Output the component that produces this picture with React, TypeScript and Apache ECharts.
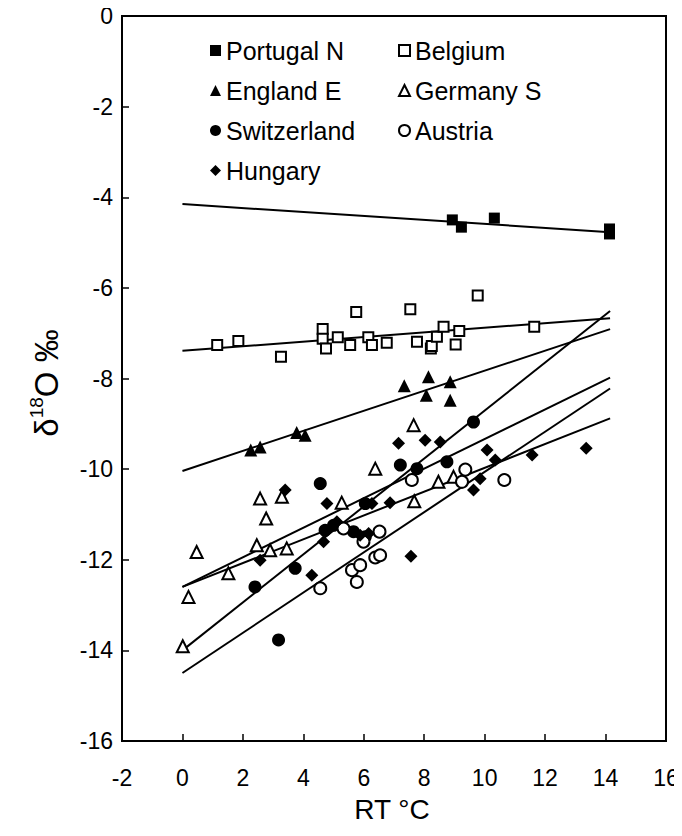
import React, { useEffect, useRef } from "react";
import * as echarts from "echarts";

const FONT = '"Liberation Sans", Arial, Helvetica, sans-serif';

// Tick range
const xRange = [-2, 16];
const yRange = [-16, 0];

// Measured points [RT °C, δ18O ‰]
const portugalN = [[8.93, -4.5], [9.23, -4.66], [10.32, -4.46], [14.13, -4.7], [14.13, -4.81]];
const belgium = [
  [1.15, -7.26], [1.85, -7.17], [3.26, -7.52], [4.64, -6.91], [4.64, -7.12], [4.75, -7.34],
  [5.14, -7.09], [5.55, -7.26], [5.75, -6.53], [6.15, -7.09], [6.27, -7.26], [6.76, -7.21],
  [7.54, -6.47], [7.76, -7.19], [8.22, -7.34], [8.25, -7.28], [8.42, -7.08], [8.64, -6.86],
  [9.04, -7.25], [9.16, -6.95], [9.77, -6.17], [11.64, -6.86],
];
const englandE = [
  [2.26, -9.58], [2.57, -9.51], [3.78, -9.19], [4.06, -9.25], [7.34, -8.16],
  [8.14, -7.96], [8.07, -8.37], [8.86, -8.07], [8.86, -8.48],
];
const germanyS = [
  [0.01, -13.91], [0.2, -12.82], [0.47, -11.83], [1.52, -12.3], [2.46, -11.68], [2.57, -10.65],
  [2.77, -11.09], [2.9, -11.79], [3.29, -10.61], [3.45, -11.75], [5.27, -10.74], [6.38, -9.99],
  [7.65, -9.03], [7.67, -10.71], [8.47, -10.28], [8.97, -10.17],
];
const switzerland = [
  [2.4, -12.6], [3.18, -13.77], [3.73, -12.19], [4.56, -10.32], [4.72, -11.35], [5.0, -11.24],
  [5.66, -11.38], [6.05, -11.49], [6.05, -10.76], [7.21, -9.91], [7.76, -9.99], [8.75, -9.84],
  [9.63, -8.96],
];
const austria = [
  [4.56, -12.63], [5.33, -11.31], [5.61, -12.23], [5.77, -12.49], [5.88, -12.12], [5.99, -11.6],
  [6.38, -11.95], [6.54, -11.9], [6.52, -11.38], [7.59, -10.24], [9.25, -10.28], [9.36, -10.01],
  [10.65, -10.24],
];
const hungary = [
  [2.57, -12.01], [3.4, -10.46], [4.28, -12.34], [4.67, -11.6], [4.78, -10.76], [5.11, -11.16],
  [5.88, -11.46], [6.16, -11.42], [6.27, -10.76], [6.87, -10.74], [7.15, -9.43], [7.56, -11.92],
  [8.03, -9.36], [8.53, -9.4], [9.63, -10.46], [9.85, -10.21], [10.08, -9.58], [10.35, -9.8],
  [11.57, -9.69], [13.36, -9.54],
];

// Regression line end points
const fitPortugalN = [[0, -4.15], [14.15, -4.77]];
const fitBelgium = [[0, -7.39], [14.15, -6.67]];
const fitEnglandE = [[0, -10.04], [14.15, -6.91]];
const fitGermanyS = [[0, -12.6], [14.15, -7.98]];
const fitSwitzerland = [[0, -14.0], [14.15, -6.51]];
const fitAustria = [[0, -14.5], [14.15, -8.22]];
const fitHungary = [[0, -12.6], [14.15, -8.88]];

const groups = [
  { name: "Portugal N", data: portugalN, fit: fitPortugalN, symbol: "rect", size: 11, open: false },
  { name: "Belgium", data: belgium, fit: fitBelgium, symbol: "rect", size: 10, open: true },
  { name: "England E", data: englandE, fit: fitEnglandE, symbol: "triangle", size: 13, open: false },
  { name: "Germany S", data: germanyS, fit: fitGermanyS, symbol: "triangle", size: 12, open: true },
  { name: "Switzerland", data: switzerland, fit: fitSwitzerland, symbol: "circle", size: 13, open: false },
  { name: "Austria", data: austria, fit: fitAustria, symbol: "circle", size: 12, open: true },
  { name: "Hungary", data: hungary, fit: fitHungary, symbol: "diamond", size: 13, open: false },
];

const legendLeftCol = ["Portugal N", "England E", "Switzerland", "Hungary"];
const legendRightCol = ["Belgium", "Germany S", "Austria"];

export default function App() {
  const ref = useRef<HTMLDivElement>(null);
  useEffect(() => {
    if (!ref.current) return;
    const chart = echarts.init(ref.current, null, { renderer: "svg" });
    const scatter = groups.map((g) => ({
      name: g.name,
      type: "scatter",
      data: g.data,
      symbol: g.symbol,
      symbolSize: g.size,
      z: 3,
      itemStyle: g.open
        ? { color: "#ffffff", borderColor: "#000000", borderWidth: 2, opacity: 1 }
        : { color: "#000000", opacity: 1 },
      emphasis: { disabled: true },
    }));
    const lines = groups.map((g) => ({
      name: "fit " + g.name,
      type: "line",
      data: g.fit,
      showSymbol: false,
      symbol: "none",
      z: 2,
      silent: true,
      lineStyle: { color: "#000000", width: 2 },
    }));
    const legendBase = {
      orient: "vertical",
      top: 33,
      itemGap: 15,
      itemWidth: 11,
      itemHeight: 11,
      selectedMode: false,
      textStyle: { fontSize: 25, fontFamily: FONT, color: "#000" },
    };
    chart.setOption({
      animation: false,
      backgroundColor: "#ffffff",
      grid: {
        left: 122,
        right: 16,
        top: 16,
        bottom: 95,
        show: true,
        borderColor: "#000",
        borderWidth: 2,
        backgroundColor: "transparent",
      },
      legend: [
        { ...legendBase, left: 205, data: legendLeftCol },
        { ...legendBase, left: 393, data: legendRightCol },
      ],
      xAxis: {
        type: "value",
        min: xRange[0],
        max: xRange[1],
        interval: 2,
        axisLine: { show: true, onZero: false, lineStyle: { color: "#000", width: 2 } },
        axisTick: { show: true, inside: true, length: 7, lineStyle: { color: "#000", width: 1.5 } },
        splitLine: { show: false },
        axisLabel: { fontSize: 23, fontFamily: FONT, color: "#000", margin: 25 },
      },
      yAxis: {
        type: "value",
        min: yRange[0],
        max: yRange[1],
        interval: 2,
        axisLine: { show: true, onZero: false, lineStyle: { color: "#000", width: 2 } },
        axisTick: { show: true, inside: true, length: 7, lineStyle: { color: "#000", width: 1.5 } },
        splitLine: { show: false },
        axisLabel: { fontSize: 23, fontFamily: FONT, color: "#000", margin: 9 },
      },
      graphic: [
        {
          type: "text",
          x: 392,
          y: 809,
          style: {
            text: "RT °C",
            fontSize: 28,
            fontFamily: FONT,
            fill: "#000",
            align: "center",
            verticalAlign: "middle",
          },
        },
        {
          type: "text",
          x: 45,
          y: 383,
          rotation: Math.PI / 2,
          style: {
            text: "{d|δ}{s|18}{d|O ‰}",
            fill: "#000",
            align: "center",
            verticalAlign: "middle",
            rich: {
              d: { fontSize: 33, fontFamily: FONT, fill: "#000", lineHeight: 36, verticalAlign: "bottom" },
              s: { fontSize: 19, fontFamily: FONT, fill: "#000", lineHeight: 20, verticalAlign: "top" },
            },
          },
        },
      ],
      series: [...lines, ...scatter],
    });
    return () => chart.dispose();
  }, []);
  return <div ref={ref} style={{ width: 682, height: 836, margin: -8 }} />;
}
